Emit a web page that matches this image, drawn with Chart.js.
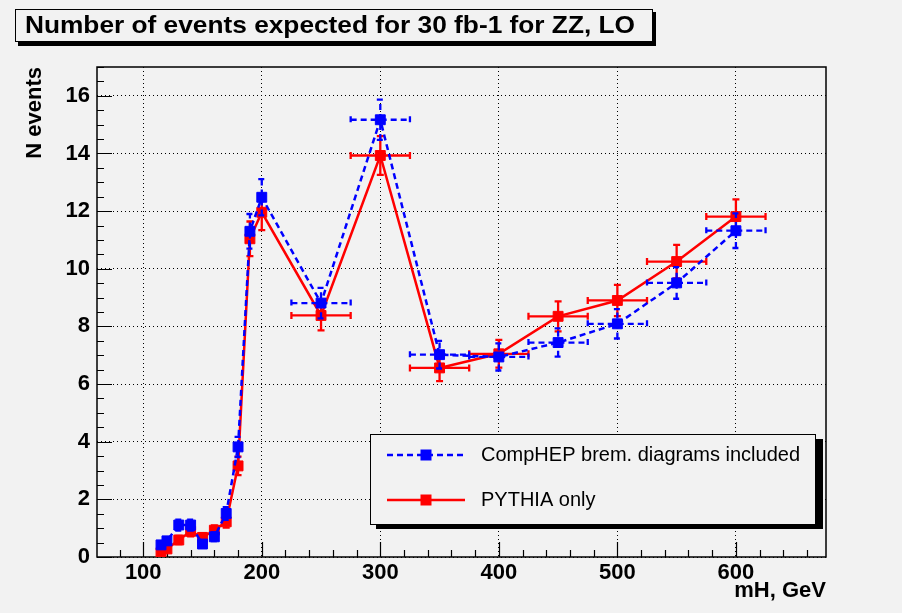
<!DOCTYPE html>
<html>
<head>
<meta charset="utf-8">
<title>ZZ events</title>
<script src="https://cdn.jsdelivr.net/npm/chart.js@4.4.1/dist/chart.umd.min.js"></script>
<style>
  html, body { margin: 0; padding: 0; background: #f2f2f2; }
  #wrap { width: 902px; height: 613px; }
</style>
</head>
<body>
<div id="wrap"><canvas id="zzChart" width="902" height="613"></canvas></div>
<script>
// Higgs masses (GeV) and half-widths of the mass bins
var massPoints = [115, 120, 130, 140, 150, 160, 170, 180, 190, 200, 250, 300, 350, 400, 450, 500, 550, 600];
var massErr    = [0, 0, 0, 0, 0, 0, 0, 0, 0, 0, 25, 25, 25, 25, 25, 25, 25, 25];

// CompHEP, brem. diagrams included (blue)
var compHepEvents = [0.42, 0.56, 1.11, 1.11, 0.45, 0.70, 1.51, 3.82, 11.30, 12.48, 8.81, 15.17, 7.02, 6.94, 7.44, 8.09, 9.51, 11.32];
var compHepErr    = [0.12, 0.13, 0.19, 0.19, 0.12, 0.15, 0.22, 0.35, 0.60, 0.63, 0.53, 0.70, 0.48, 0.47, 0.49, 0.51, 0.55, 0.60];

// PYTHIA only (red)
var pythiaEvents = [0.15, 0.28, 0.59, 0.89, 0.68, 0.93, 1.22, 3.16, 11.04, 11.96, 8.38, 13.93, 6.56, 7.05, 8.35, 8.90, 10.25, 11.81];
var pythiaErr    = [0.07, 0.10, 0.14, 0.17, 0.15, 0.17, 0.20, 0.32, 0.60, 0.62, 0.52, 0.67, 0.46, 0.48, 0.52, 0.54, 0.58, 0.60];

// axes
var xRange = [61, 676];
var yRange = [0, 17];
var xMajorStep = 100, xMinorStep = 20;
var yMajorStep = 2, yMinorStep = 0.5;

var chartTitle = 'Number of events expected for 30 fb-1 for ZZ, LO';
var fontFam = "'Liberation Sans', Arial, Helvetica, sans-serif";
var bgColor = '#f2f2f2';

function toPoints(xs, ys) {
  return xs.map(function (x, i) { return { x: x, y: ys[i] }; });
}

// square marker like ROOT's style 21
function drawMarker(ctx, x, y, color) {
  ctx.fillStyle = color;
  ctx.fillRect(x - 5.5, y - 5.5, 11, 11);
}

var rootStyle = {
  id: 'rootStyle',
  beforeDraw: function (chart) {
    var ctx = chart.ctx;
    ctx.save();
    ctx.fillStyle = bgColor;
    ctx.fillRect(0, 0, chart.width, chart.height);
    ctx.restore();
  },
  beforeDatasetsDraw: function (chart) {
    var ctx = chart.ctx, a = chart.chartArea;
    var xs = chart.scales.x, ys = chart.scales.y;
    ctx.save();
    ctx.strokeStyle = '#000';
    ctx.lineWidth = 1.5;
    ctx.strokeRect(a.left, a.top, a.right - a.left, a.bottom - a.top);
    ctx.lineWidth = 1.2;
    ctx.beginPath();
    // x ticks, pointing up into the frame
    var v, p, len;
    for (v = Math.ceil(xRange[0] / xMinorStep) * xMinorStep; v <= xRange[1]; v += xMinorStep) {
      p = Math.round(xs.getPixelForValue(v)) + 0.5;
      len = (v % xMajorStep === 0) ? 15 : 7;
      ctx.moveTo(p, a.bottom);
      ctx.lineTo(p, a.bottom - len);
    }
    // y ticks, pointing right
    for (v = yRange[0]; v <= yRange[1]; v += yMinorStep) {
      p = Math.round(ys.getPixelForValue(v)) + 0.5;
      len = (Math.abs(v % yMajorStep) < 1e-9) ? 15 : 7;
      ctx.moveTo(a.left, p);
      ctx.lineTo(a.left + len, p);
    }
    ctx.stroke();
    ctx.restore();
  },
  beforeDatasetDraw: function (chart, args) {
    var ds = chart.data.datasets[args.index];
    var ctx = chart.ctx, xs = chart.scales.x, ys = chart.scales.y;
    ctx.save();
    ctx.strokeStyle = ds.borderColor;
    ctx.lineWidth = 2.3;
    ctx.setLineDash(ds.borderDash || []);
    ctx.beginPath();
    ds.data.forEach(function (pt, i) {
      var px = xs.getPixelForValue(pt.x);
      var py = ys.getPixelForValue(pt.y);
      var e = ds.yErr[i], ex = ds.xErr[i];
      var lo = ys.getPixelForValue(pt.y - e), hi = ys.getPixelForValue(pt.y + e);
      ctx.moveTo(px, lo); ctx.lineTo(px, hi);
      ctx.moveTo(px - 3.5, lo); ctx.lineTo(px + 3.5, lo);
      ctx.moveTo(px - 3.5, hi); ctx.lineTo(px + 3.5, hi);
      if (ex > 0) {
        var l = xs.getPixelForValue(pt.x - ex), r = xs.getPixelForValue(pt.x + ex);
        ctx.moveTo(l, py); ctx.lineTo(r, py);
        ctx.moveTo(l, py - 3.5); ctx.lineTo(l, py + 3.5);
        ctx.moveTo(r, py - 3.5); ctx.lineTo(r, py + 3.5);
      }
    });
    ctx.stroke();
    ctx.restore();
  },
  afterDraw: function (chart) {
    var ctx = chart.ctx;
    ctx.save();
    // title box with shadow
    ctx.fillStyle = '#000';
    ctx.fillRect(18, 12, 638, 34);
    ctx.fillStyle = bgColor;
    ctx.fillRect(15, 9, 638, 33);
    ctx.strokeStyle = '#000';
    ctx.lineWidth = 1;
    ctx.strokeRect(15.5, 9.5, 637, 32);
    ctx.font = 'bold 24px ' + fontFam;
    ctx.fillStyle = '#000';
    ctx.textBaseline = 'middle';
    var w = ctx.measureText(chartTitle).width;
    ctx.save();
    ctx.translate(25, 26);
    ctx.scale(610 / w, 1);
    ctx.fillText(chartTitle, 0, 0);
    ctx.restore();

    // legend box with shadow
    ctx.fillStyle = '#000';
    ctx.fillRect(376, 439, 447, 90);
    ctx.fillStyle = bgColor;
    ctx.fillRect(370, 434, 446, 91);
    ctx.strokeRect(370.5, 434.5, 445, 90);
    var rows = [455, 500];
    ctx.font = '20px ' + fontFam;
    chart.data.datasets.forEach(function (ds, i) {
      var y = rows[i];
      ctx.save();
      ctx.strokeStyle = ds.borderColor;
      ctx.lineWidth = 2.5;
      ctx.setLineDash(ds.borderDash || []);
      ctx.beginPath();
      ctx.moveTo(387, y); ctx.lineTo(465, y);
      ctx.stroke();
      ctx.restore();
      drawMarker(ctx, 426, y, ds.borderColor);
      ctx.fillStyle = '#000';
      ctx.textBaseline = 'middle';
      ctx.fillText(ds.label, 481, y);
    });
    ctx.restore();
  }
};

Chart.defaults.font.family = fontFam;
Chart.defaults.color = '#000';

var ctx = document.getElementById('zzChart').getContext('2d');
var myChart = new Chart(ctx, {
  type: 'line',
  data: {
    datasets: [{
      label: 'CompHEP brem. diagrams included',
      data: toPoints(massPoints, compHepEvents),
      yErr: compHepErr,
      xErr: massErr,
      borderColor: '#0000ff',
      backgroundColor: '#0000ff',
      borderWidth: 2.5,
      borderDash: [6, 4],
      pointStyle: 'rect',
      pointRadius: 7,
      pointBorderWidth: 1,
      tension: 0
    }, {
      label: 'PYTHIA only',
      data: toPoints(massPoints, pythiaEvents),
      yErr: pythiaErr,
      xErr: massErr,
      borderColor: '#ff0000',
      backgroundColor: '#ff0000',
      borderWidth: 2.5,
      pointStyle: 'rect',
      pointRadius: 7,
      pointBorderWidth: 1,
      tension: 0
    }]
  },
  options: {
    responsive: false,
    animation: false,
    devicePixelRatio: 1,
    layout: { padding: { top: 67, right: 76, left: 0, bottom: 0 } },
    plugins: {
      legend: { display: false },
      title: { display: false },
      tooltip: { enabled: false }
    },
    scales: {
      x: {
        type: 'linear',
        min: xRange[0],
        max: xRange[1],
        afterFit: function (s) { s.height = 56; },
        ticks: {
          stepSize: xMajorStep,
          includeBounds: false,
          maxRotation: 0,
          padding: 3,
          font: { size: 22, weight: 'bold' }
        },
        grid: { color: '#000', lineWidth: 1, drawTicks: false },
        border: { display: false, dash: [1, 3] },
        title: {
          display: true,
          text: 'mH, GeV',
          align: 'end',
          font: { size: 22, weight: 'bold' },
          padding: { top: 0, bottom: 9 }
        }
      },
      y: {
        type: 'linear',
        min: yRange[0],
        max: yRange[1],
        afterFit: function (s) { s.width = 97; },
        ticks: {
          stepSize: yMajorStep,
          includeBounds: false,
          padding: 7,
          font: { size: 22, weight: 'bold' }
        },
        grid: { color: '#000', lineWidth: 1, drawTicks: false },
        border: { display: false, dash: [1, 3] },
        title: {
          display: true,
          text: 'N events',
          align: 'end',
          font: { size: 22, weight: 'bold' },
          padding: { top: 22, bottom: 0 }
        }
      }
    }
  },
  plugins: [rootStyle]
});
</script>
</body>
</html>
